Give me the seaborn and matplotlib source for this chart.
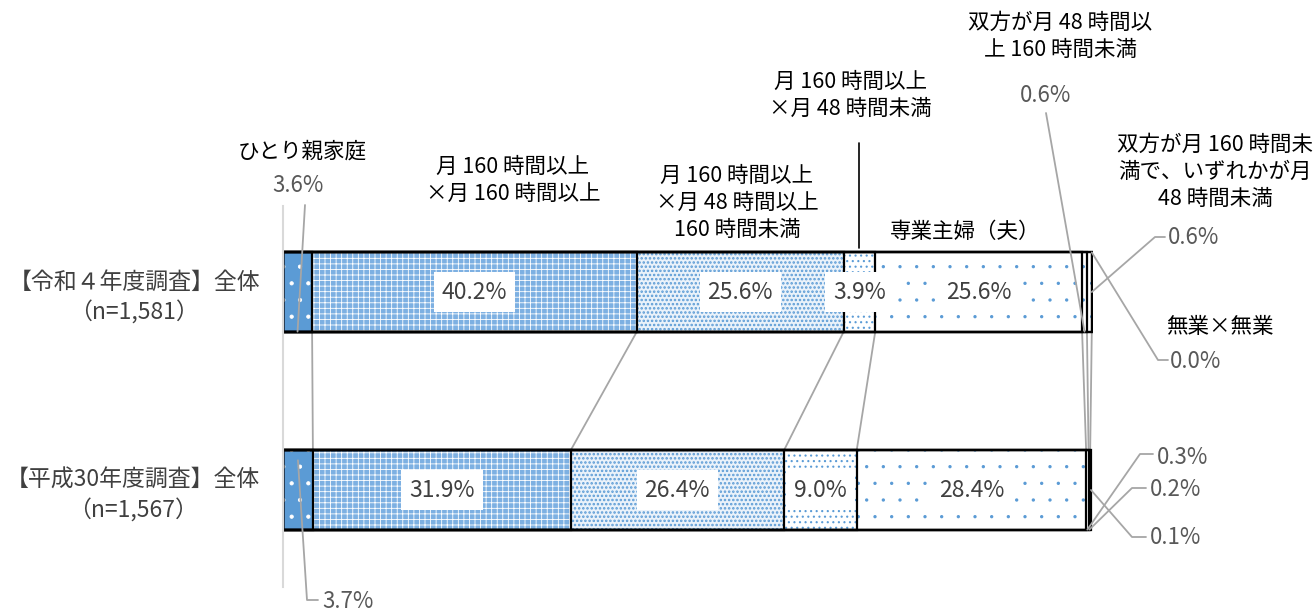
import seaborn as sns
import matplotlib.pyplot as plt
import numpy as np
import pandas as pd

# data
surveys = ['【令和４年度調査】全体\n（n=1,581）', '【平成30年度調査】全体\n（n=1,567）']
categories = ['ひとり親家庭',
              '月 160 時間以上\n×月 160 時間以上',
              '月 160 時間以上\n×月 48 時間以上\n160 時間未満',
              '月 160 時間以上\n×月 48 時間未満',
              '専業主婦（夫）',
              '双方が月 48 時間以\n上 160 時間未満',
              '双方が月 160 時間未\n満で、いずれかが月\n48 時間未満',
              '無業×無業']
r4_values = [3.6, 40.2, 25.6, 3.9, 25.6, 0.6, 0.6, 0.0]
h30_values = [3.7, 31.9, 26.4, 9.0, 28.4, 0.3, 0.2, 0.1]

# fill / hatch / hatch colour / hatch linewidth per segment
BLUE = '#5B9BD5'
styles = [
    (BLUE, '.', 'white', 0.6),
    ('#7DB0E2', '+++', 'white', 0.6),
    ('#EAF2FA', '....', BLUE, 1.2),
    ('white', '...', BLUE, 0.8),
    ('white', '.', BLUE, 0.0),
    ('white', '.', BLUE, 0.0),
    ('white', '.', BLUE, 0.0),
    ('white', '', 'white', 0.0),
]

sns.set_style("white")
plt.rcParams['font.family'] = ['Noto Sans CJK JP', 'DejaVu Sans']

W, H = 1316, 612
fig = plt.figure(figsize=(W / 100, H / 100), dpi=100)
ax = fig.add_axes([283 / W, (H - 587) / H, 809.6 / W, 381 / H])

cum_r4 = np.cumsum(r4_values)
cum_h30 = np.cumsum(h30_values)
BAR_W = 0.4

# fills, longest first so shorter ones sit on top
for i in reversed(range(len(categories))):
    face, hatch, hcol, hlw = styles[i]
    d = pd.DataFrame({'survey': surveys, 'cum': [cum_r4[i], cum_h30[i]]})
    n_before = len(ax.patches)
    with plt.rc_context({'hatch.linewidth': hlw}):
        sns.barplot(data=d, x='cum', y='survey', orient='h', color=face, saturation=1,
                    hatch=hatch, edgecolor=hcol, linewidth=0, width=BAR_W,
                    errorbar=None, ax=ax)
    for p in ax.patches[n_before:]:
        if hasattr(p, 'set_hatch_linewidth'):
            p.set_hatch_linewidth(hlw)
# black outlines
for i in range(len(categories)):
    d = pd.DataFrame({'survey': surveys, 'cum': [cum_r4[i], cum_h30[i]]})
    sns.barplot(data=d, x='cum', y='survey', orient='h', color='black', fill=False,
                edgecolor='black', linewidth=1.6, width=BAR_W, errorbar=None, ax=ax)

ax.set_xlim(0, 100.2)
ax.set_ylim((587 - 292) / 198, (206 - 292) / 198)
ax.set_xlabel('')
ax.set_ylabel('')
ax.set_xticks([])
ax.set_yticks([0, 1])
ax.set_yticklabels(surveys, fontsize=16.5, color='#404040', multialignment='center',
                   linespacing=1.35)
ax.tick_params(axis='y', left=False, pad=13)
for s in ['top', 'right', 'bottom']:
    ax.spines[s].set_visible(False)
ax.spines['left'].set_color('#D9D9D9')
ax.spines['left'].set_linewidth(1.5)

# series lines between the two bars
for i in range(len(categories) - 1):
    ax.plot([cum_r4[i], cum_h30[i]], [BAR_W / 2, 1 - BAR_W / 2],
            color='#A6A6A6', lw=1.3, zorder=0.5)

# labels inside bars
for row, (vals, cums) in enumerate([(r4_values, cum_r4), (h30_values, cum_h30)]):
    for i in [1, 2, 3, 4]:
        ax.text(cums[i] - vals[i] / 2, row, f'{vals[i]:.1f}%', ha='center', va='center',
                fontsize=16.5, color='#404040', zorder=5,
                bbox=dict(boxstyle='square,pad=0.35', fc='white', ec='none'))


def fpx(x, y):
    # figure pixel (top-left origin) -> data coords
    return ax.transData.inverted().transform((x, H - y))


def ftext(x, y, s, **kw):
    fig.text(x / W, 1 - y / H, s, **kw)


cat_pos = [(302, 152), (513, 180), (737, 203), (850, 95), (965, 232),
           (1060, 36), (1215, 172), (1220, 327)]
for (x, y), s in zip(cat_pos, categories):
    ftext(x, y, s, ha='center', va='center', fontsize=15.5, color='black',
          linespacing=1.3)

# leader from the 3.9% category label
p = fpx(858, 143)
ax.plot([cum_r4[3] - r4_values[3] / 2] * 2, [p[1], -BAR_W / 2 - 0.02],
        color='black', lw=1.2, clip_on=False)

GRAY = '#A6A6A6'
VCOL = '#595959'


def leader(pts, **kw):
    xs, ys = zip(*pts)
    ax.plot(xs, ys, color=GRAY, lw=1.3, clip_on=False, zorder=4)


# outside value labels and their leader lines
ftext(298, 186, f'{r4_values[0]:.1f}%', ha='center', va='center', fontsize=16, color=VCOL)
leader([fpx(305, 205), (r4_values[0] / 2, BAR_W / 2)])

ftext(322, 601, f'{h30_values[0]:.1f}%', ha='left', va='center', fontsize=16, color=VCOL)
leader([(h30_values[0] / 2, 1 - BAR_W / 2 + 0.05), fpx(307, 600), fpx(318, 600)])

ftext(1046, 95, f'{r4_values[5]:.1f}%', ha='center', va='center', fontsize=16, color=VCOL)
leader([fpx(1046, 113), (cum_r4[5] - r4_values[5] / 2, BAR_W / 2)])

ftext(1168, 238, f'{r4_values[6]:.1f}%', ha='left', va='center', fontsize=16, color=VCOL)
leader([(cum_r4[6], 0), fpx(1155, 237), fpx(1165, 237)])

ftext(1170, 362, f'{r4_values[7]:.1f}%', ha='left', va='center', fontsize=16, color=VCOL)
leader([(cum_r4[7], -BAR_W / 2), fpx(1158, 360), fpx(1168, 360)])

ftext(1157, 457, f'{h30_values[5]:.1f}%', ha='left', va='center', fontsize=16, color=VCOL)
leader([(cum_h30[5] - h30_values[5] / 2, 1 + BAR_W / 2), fpx(1140, 454), fpx(1153, 454)])

ftext(1150, 490, f'{h30_values[6]:.1f}%', ha='left', va='center', fontsize=16, color=VCOL)
leader([(cum_h30[6] - h30_values[6] / 2, 1 + BAR_W / 2), fpx(1132, 488), fpx(1146, 488)])

ftext(1150, 537, f'{h30_values[7]:.1f}%', ha='left', va='center', fontsize=16, color=VCOL)
leader([(cum_h30[7], 1), fpx(1132, 537), fpx(1146, 537)])

fig.savefig('out.png', dpi=100)
